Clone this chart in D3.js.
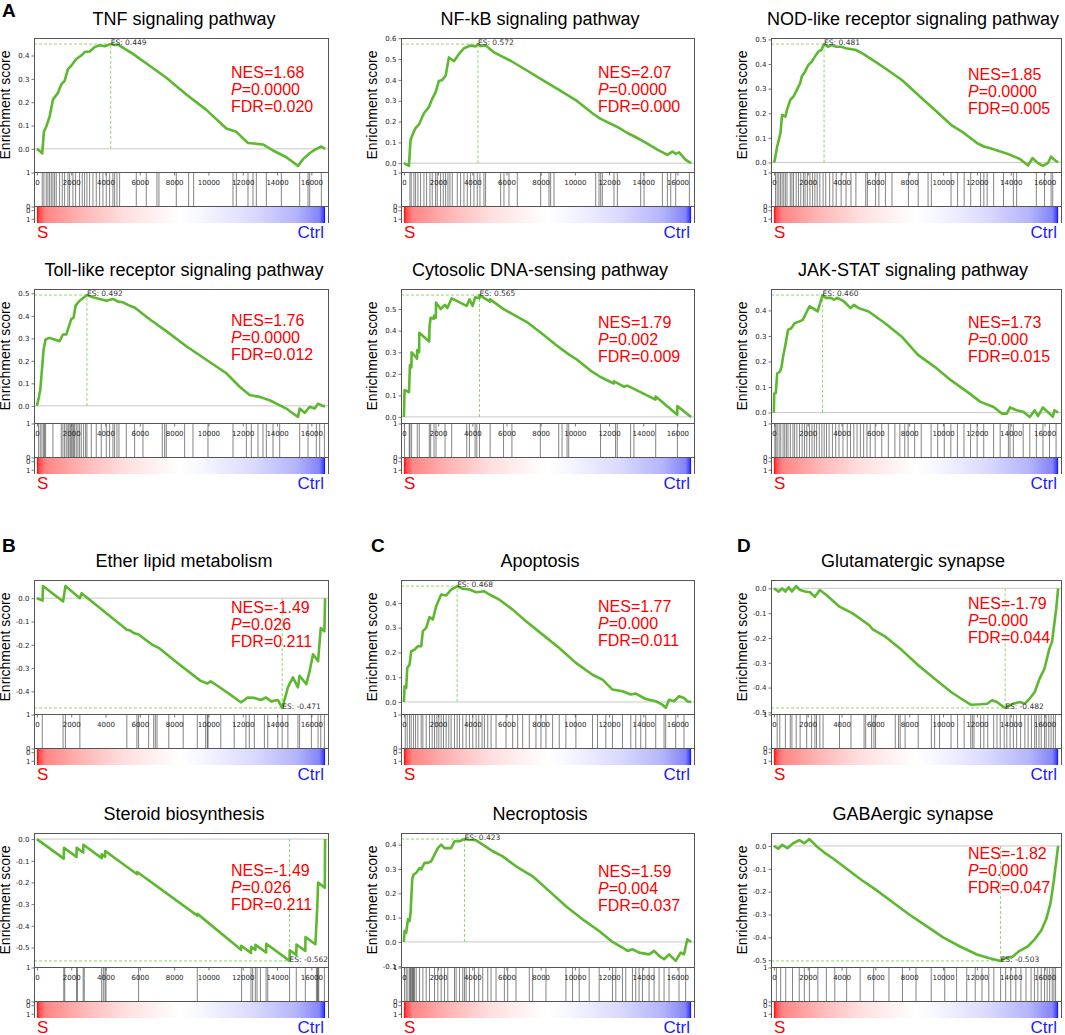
<!DOCTYPE html>
<html>
<head>
<meta charset="utf-8">
<script src="https://cdn.jsdelivr.net/npm/d3@7"></script>
<style>
  body { margin: 0; background: #fff; }
  svg { display: block; }
</style>
</head>
<body>
<div id="chart"></div>
<script>
// ---- data ----
const titles = ["TNF signaling pathway", "NF-kB signaling pathway", "NOD-like receptor signaling pathway",
  "Toll-like receptor signaling pathway", "Cytosolic DNA-sensing pathway", "JAK-STAT signaling pathway",
  "Ether lipid metabolism", "Apoptosis", "Glutamatergic synapse",
  "Steroid biosynthesis", "Necroptosis", "GABAergic synapse"];
const nesValues = ["1.68", "2.07", "1.85", "1.76", "1.79", "1.73", "-1.49", "1.77", "-1.79", "-1.49", "1.59", "-1.82"];
const pValues = ["0.0000", "0.0000", "0.0000", "0.0000", "0.002", "0.000", "0.026", "0.000", "0.000", "0.026", "0.004", "0.000"];
const fdrValues = ["0.020", "0.000", "0.005", "0.012", "0.009", "0.015", "0.211", "0.011", "0.044", "0.211", "0.037", "0.047"];
const xTicks = [0, 2000, 4000, 6000, 8000, 10000, 12000, 14000, 16000];
const nGenes = 16800;
const panelLetters = ["A", "B", "C", "D"];
const groupLabels = ["S", "Ctrl"];

// running enrichment score, [rank, ES]
const esTNF = [[0,0],[311,-0.019],[408,0.073],[544,0.095],[739,0.138],[933,0.211],[1225,0.240],[1419,0.276],[1614,0.291],[1808,0.342],[2002,0.356],[2294,0.385],[2586,0.400],[2780,0.415],[3072,0.417],[3363,0.436],[3655,0.444],[3946,0.440],[4300,0.449],[4530,0.445],[4724,0.447],[5600,0.407],[6571,0.356],[7543,0.305],[8710,0.233],[9876,0.167],[11042,0.087],[11625,0.073],[12306,0.025],[13180,0.019],[13763,-0.007],[14541,-0.036],[15222,-0.073],[15513,-0.044],[15902,-0.019],[16193,-0.004],[16582,0.010],[16800,0]];
const esNFkB = [[0,0],[293,-0.013],[390,0.113],[546,0.145],[683,0.169],[878,0.185],[1171,0.24],[1463,0.27],[1658,0.31],[1853,0.34],[2049,0.395],[2244,0.40],[2439,0.42],[2634,0.508],[2927,0.49],[3219,0.524],[3512,0.552],[3902,0.565],[4195,0.561],[4330,0.572],[4487,0.563],[4780,0.566],[5268,0.532],[6243,0.492],[7219,0.444],[8194,0.395],[9170,0.347],[10145,0.298],[11121,0.234],[11511,0.213],[12486,0.174],[13072,0.145],[13657,0.121],[14242,0.094],[14828,0.065],[15413,0.04],[15706,0.056],[15901,0.045],[16096,0.052],[16486,0.016],[16800,0]];
const esNOD = [[0,0],[58,0.011],[194,0.065],[388,0.119],[485,0.193],[679,0.186],[776,0.214],[970,0.254],[1163,0.268],[1357,0.295],[1551,0.322],[1648,0.349],[1842,0.369],[2036,0.396],[2230,0.409],[2424,0.430],[2618,0.450],[2812,0.457],[2967,0.481],[3200,0.470],[3393,0.477],[3684,0.470],[3975,0.470],[4266,0.464],[4848,0.457],[5235,0.443],[6011,0.409],[6593,0.382],[7562,0.335],[8532,0.274],[9501,0.214],[10471,0.153],[11246,0.119],[12022,0.078],[12410,0.065],[12797,0.058],[13379,0.045],[13961,0.031],[14543,0.014],[15027,-0.012],[15280,0.018],[15609,-0.003],[15900,-0.014],[16190,-0.003],[16384,0.024],[16578,0.011],[16800,0]];
const esToll = [[0,0],[117,0.04],[194,0.07],[292,0.16],[389,0.25],[505,0.295],[739,0.302],[1030,0.295],[1322,0.287],[1516,0.317],[1711,0.317],[1808,0.34],[2002,0.385],[2138,0.392],[2255,0.445],[2488,0.467],[2683,0.478],[2916,0.492],[3266,0.482],[3655,0.475],[4044,0.467],[4432,0.475],[4724,0.463],[5016,0.46],[5404,0.445],[5696,0.437],[6571,0.385],[7543,0.332],[8709,0.265],[9876,0.205],[11042,0.145],[11819,0.085],[12403,0.048],[12986,0.04],[13569,0.025],[13958,0.01],[14541,-0.012],[14930,-0.034],[15222,-0.049],[15319,-0.012],[15610,-0.031],[15902,-0.004],[16193,-0.012],[16388,0.01],[16680,-0.001],[16800,0]];
const esCytosolic = [[0,0],[40,0.125],[300,0.115],[352,0.24],[440,0.23],[450,0.30],[770,0.27],[782,0.31],[890,0.30],[900,0.39],[1480,0.35],[1500,0.42],[1565,0.46],[1750,0.455],[1760,0.47],[1870,0.46],[1878,0.53],[2150,0.50],[2406,0.52],[2540,0.505],[2797,0.55],[3670,0.515],[3834,0.545],[4020,0.515],[4166,0.555],[4410,0.55],[4421,0.565],[5040,0.535],[5046,0.545],[5829,0.50],[6513,0.47],[7198,0.44],[8176,0.38],[8958,0.33],[9643,0.29],[10132,0.265],[10914,0.215],[11501,0.185],[12280,0.155],[12290,0.165],[12870,0.14],[13066,0.145],[13457,0.13],[14720,0.08],[14730,0.095],[15990,0.01],[16000,0.05],[16800,0]];
const esJAK = [[0,0],[19,0.075],[117,0.077],[194,0.153],[350,0.16],[447,0.177],[544,0.219],[700,0.271],[836,0.324],[1030,0.330],[1225,0.350],[1516,0.357],[1711,0.363],[1905,0.390],[2100,0.416],[2294,0.409],[2586,0.396],[2877,0.460],[3072,0.449],[3363,0.449],[3557,0.442],[3752,0.449],[4141,0.435],[4530,0.409],[4724,0.422],[5016,0.409],[5599,0.396],[6571,0.350],[7543,0.298],[8515,0.226],[9487,0.180],[10459,0.127],[11431,0.081],[12209,0.042],[12986,0.022],[13472,-0.004],[13764,-0.004],[13958,0.02],[14347,0.009],[14736,0.003],[15124,-0.017],[15416,0.009],[15610,-0.014],[15902,0.02],[16291,-0.004],[16485,-0.017],[16582,0.009],[16800,0]];
const esEther = [[0,0],[330,-0.01],[352,0.052],[1526,-0.014],[1662,0.052],[2504,0],[2602,0.021],[5242,-0.135],[5438,-0.139],[5634,-0.149],[5927,-0.156],[6709,-0.199],[7101,-0.213],[8176,-0.277],[9545,-0.355],[9937,-0.366],[10133,-0.357],[10524,-0.376],[11502,-0.426],[11893,-0.447],[12088,-0.437],[12284,-0.426],[12675,-0.428],[13066,-0.437],[13360,-0.426],[13653,-0.443],[14044,-0.437],[14300,-0.471],[14533,-0.411],[14631,-0.383],[14924,-0.340],[15217,-0.383],[15315,-0.333],[15706,-0.369],[15902,-0.312],[16098,-0.241],[16391,-0.27],[16548,-0.128],[16760,-0.142],[16800,0]];
const esApoptosis = [[0,0],[39,0.063],[136,0.057],[195,0.137],[331,0.151],[428,0.205],[623,0.211],[817,0.225],[1012,0.225],[1109,0.286],[1304,0.299],[1498,0.343],[1693,0.333],[1888,0.387],[2179,0.434],[2471,0.430],[2763,0.454],[2958,0.461],[3114,0.468],[3444,0.457],[3834,0.454],[4223,0.443],[4709,0.447],[5001,0.434],[5585,0.413],[6363,0.373],[7142,0.326],[8115,0.272],[9088,0.218],[10061,0.158],[11034,0.110],[11618,0.090],[12201,0.050],[12785,0.043],[13272,0.030],[13564,0.034],[14147,0.012],[14731,0.003],[15120,-0.011],[15315,-0.024],[15510,0.009],[15802,0.003],[16093,0.023],[16385,0.016],[16580,0.003],[16800,0]];
const esGlutamatergic = [[0,0],[291,-0.013],[485,0],[679,-0.013],[873,0.004],[1066,-0.013],[1319,0.009],[1551,-0.007],[1842,-0.013],[2133,-0.016],[2424,-0.034],[2715,-0.007],[3103,-0.027],[3878,-0.074],[4654,-0.101],[5623,-0.148],[5817,-0.164],[6593,-0.195],[7562,-0.249],[8532,-0.310],[9501,-0.364],[10471,-0.418],[11052,-0.444],[11634,-0.469],[12216,-0.467],[12604,-0.465],[12895,-0.451],[13185,-0.458],[13573,-0.478],[13670,-0.482],[14155,-0.465],[14543,-0.458],[14834,-0.465],[15124,-0.444],[15415,-0.418],[15706,-0.364],[15997,-0.323],[16094,-0.296],[16288,-0.242],[16443,-0.215],[16540,-0.162],[16690,-0.081],[16800,0]];
const esSteroid = [[0,0],[1565,-0.090],[1575,-0.040],[2308,-0.082],[2318,-0.040],[2699,-0.062],[2709,-0.026],[3775,-0.088],[3785,-0.070],[3971,-0.081],[3981,-0.055],[5840,-0.162],[5850,-0.152],[9350,-0.353],[9360,-0.345],[11900,-0.511],[11910,-0.492],[12480,-0.525],[12490,-0.497],[12734,-0.511],[12744,-0.488],[13360,-0.523],[13370,-0.483],[14729,-0.562],[14739,-0.513],[15120,-0.535],[15130,-0.486],[15648,-0.516],[15658,-0.452],[16235,-0.485],[16294,-0.395],[16352,-0.302],[16391,-0.201],[16782,-0.224],[16800,0]];
const esNecroptosis = [[0,0],[39,0.045],[136,0.038],[234,0.093],[331,0.086],[389,0.12],[487,0.257],[564,0.277],[720,0.284],[915,0.304],[1012,0.298],[1207,0.325],[1401,0.325],[1596,0.332],[1790,0.359],[1985,0.386],[2179,0.40],[2374,0.386],[2763,0.386],[2958,0.414],[3250,0.414],[3542,0.423],[3834,0.420],[4223,0.418],[4612,0.40],[5196,0.373],[5780,0.352],[6558,0.311],[7531,0.270],[8504,0.209],[9477,0.147],[10450,0.093],[11423,0.045],[12201,0],[12785,-0.023],[13077,-0.037],[13369,-0.030],[13758,-0.044],[14342,-0.051],[14634,-0.037],[14926,-0.057],[15218,-0.071],[15510,-0.051],[15899,-0.078],[16191,-0.044],[16385,-0.051],[16580,0.011],[16800,0]];
const esGABA = [[0,0],[250,-0.012],[500,0.005],[800,-0.01],[1100,0.01],[1500,0.025],[1800,0.012],[2100,0.03],[2500,0.0],[3000,-0.03],[3500,-0.055],[4300,-0.1],[5200,-0.15],[6000,-0.19],[7000,-0.245],[8000,-0.3],[9000,-0.35],[10000,-0.4],[11000,-0.44],[12000,-0.475],[12700,-0.49],[13400,-0.503],[13700,-0.49],[14100,-0.485],[14500,-0.46],[15000,-0.44],[15400,-0.41],[15800,-0.37],[16100,-0.32],[16350,-0.25],[16550,-0.15],[16700,-0.06],[16800,0]];

// ranks of the gene-set members (the bar code)
const hitsTNF = [311,408,544,641,739,836,933,1030,1128,1322,1477,1614,1808,1905,2100,2255,2488,2644,2780,2916,3072,3266,3460,3655,3849,4044,4238,4432,4530,4666,4821,5793,6376,6998,7115,8126,8845,9137,11431,11625,12306,12597,12792,13375,14250,15319,15805,15902,16582];
const hitsNFkB = [351,429,585,683,819,976,1171,1327,1522,1658,1853,1951,2146,2302,2439,2575,2692,2829,3122,3317,3512,3707,3902,4097,4292,4448,4682,4780,5658,5853,6146,6633,8000,8487,8584,8780,11218,11413,11511,11609,12291,12486,13852,14047,15120,15413,15608,15901,16700];
const hitsNOD = [97,194,291,388,485,582,679,776,970,1066,1163,1319,1454,1590,1745,1842,1978,2133,2288,2424,2559,2715,2909,3064,3296,3490,3684,3975,4266,4557,4848,5429,5526,6011,6205,6593,6980,7950,8532,9113,9307,10471,10858,11246,11634,12216,12410,12604,12991,13573,14155,14349,15512,15997,16384,16481];
const hitsToll = [97,194,292,389,447,505,933,1419,1516,1614,1711,1808,1866,1944,2002,2061,2138,2197,2294,2391,2488,2586,2722,2838,2916,3169,3460,3752,4044,4238,4432,4530,4666,4782,5210,5696,6182,7309,7446,7543,8612,9098,9973,11431,12209,12500,12889,13180,13375,13764,14153,15319,15805,16291,16485,16760];
const hitsCytosolic = [39,313,352,450,782,900,1487,1565,1760,1878,2406,2797,3677,3834,4166,4264,4421,5046,5829,6318,7980,9056,9252,9545,9643,11501,12381,12479,13262,13457,14729,16000];
const hitsJAK = [58,117,194,311,408,544,642,739,836,972,1128,1225,1361,1516,1672,1808,1944,2100,2255,2391,2527,2683,2838,2974,3110,3266,3460,3655,3849,4082,4335,4530,4724,4918,5113,5307,5501,5696,5988,6376,6765,7154,7446,7737,7932,8320,8709,9292,9681,10070,10459,10848,11236,11625,12014,12403,12986,13375,13861,13958,14153,14736,15124,15513,15902,16291,16680];
const hitsEther = [313,1526,1662,2504,5242,5829,5927,6514,6807,6905,7003,7688,8528,9350,9839,9937,9976,10719,11502,12186,12382,12675,13262,13458,14044,14298,14631,15217,15315,16000,16391,16548,16760];
const hitsApoptosis = [78,195,331,428,564,681,817,1012,1109,1304,1498,1654,1790,1927,2043,2180,2316,2471,2627,2763,2958,3114,3250,3444,3639,3834,4028,4223,4379,4573,4709,4904,5099,5390,5974,6363,6655,6947,7336,7726,8018,8309,8699,9088,9477,10061,11034,11326,11812,12201,12785,13272,13564,13855,14147,14731,15218,15315,15899,16385];
const hitsGlutamatergic = [194,349,679,970,1066,1319,1551,1939,2230,2424,2521,2715,2909,3878,4557,5332,5429,5778,5914,6011,7174,7368,7465,7756,8532,9307,9501,9792,10471,10858,11246,11634,11731,11828,12216,12410,12642,12991,13185,13379,13612,13767,13961,14155,14349,14581,14834,15027,15221,15415,15512,15667,15803,15997,16094,16249,16384,16520,16637];
const hitsSteroid = [1565,1623,2308,2367,2699,2758,3775,3873,3971,4030,5927,9350,11932,12480,12578,12734,12832,13028,13360,13458,14729,15120,15648,16294,16352,16391,16430,16760];
const hitsNecroptosis = [39,136,234,331,389,428,487,525,564,623,720,915,1109,1304,1498,1790,1985,2179,2374,2569,2958,3055,3250,3444,3542,3639,3834,4126,4379,4612,4904,5099,5390,5877,6071,6558,7336,7531,8309,9477,9866,10255,10839,11423,12201,12396,12785,12980,13369,13564,13758,13953,14342,14634,14926,15218,15510,16093,16483];
const hitsGABA = [150,400,700,1100,1500,1800,2100,2600,3100,3600,4300,5100,5900,6800,7600,8400,9300,10100,10800,11400,11900,12300,12700,13000,13400,13700,14000,14300,14600,14900,15200,15400,15600,15800,16000,16150,16300,16450,16550,16650];

const esCurves = [esTNF, esNFkB, esNOD, esToll, esCytosolic, esJAK, esEther, esApoptosis, esGlutamatergic, esSteroid, esNecroptosis, esGABA];
const hitRanks = [hitsTNF, hitsNFkB, hitsNOD, hitsToll, hitsCytosolic, hitsJAK, hitsEther, hitsApoptosis, hitsGlutamatergic, hitsSteroid, hitsNecroptosis, hitsGABA];

// ---- layout ----
const colX = [[34, 328], [401, 694], [771, 1061]];
const rowTop = [38, 289, 580, 833];
const titleX = [184, 540, 913];
const nesTop = [40, 40, 42, 37, 39, 39, 33, 32, 29, 43, 44, 26];
const letterPos = [[2, 17, 0], [2, 552, 6], [371, 552, 7], [737, 552, 8]];
const esH = 134, hitH = 34, cbH = 17;

const green = "#5cb82e";
const frame = "#555";
const sans = "'Liberation Sans', Arial, sans-serif";
const small = "'DejaVu Sans', sans-serif";

const svg = d3.select('#chart').append('svg')
    .attr('width', 1065)
    .attr('height', 1035);

// red -> white -> blue ranked-metric bar
const grad = svg.append('defs').append('linearGradient').attr('id', 'rankGrad');
[[0, '#ff0000'], [0.008, '#ff4a4a'], [0.03, '#ff8585'], [0.15, '#ffb3b3'], [0.3, '#ffdede'],
 [0.45, '#fff7f7'], [0.5, '#ffffff'], [0.58, '#f5f5ff'], [0.75, '#dadaff'], [0.9, '#b4b4fb'],
 [0.98, '#8484f8'], [0.995, '#4040ff'], [1, '#0000ff']].forEach(s => {
  grad.append('stop').attr('offset', s[0]).attr('stop-color', s[1]);
});

function styleAxis(g) {
  g.select('.domain').remove();
  g.selectAll('line').attr('stroke', frame).attr('stroke-width', 0.8);
  g.selectAll('text').attr('font-family', small).attr('font-size', 7).attr('fill', '#222');
}

function drawPanel(i) {
  const col = i % 3, row = Math.floor(i / 3);
  const [left, right] = colX[col];
  const top = rowTop[row];
  const esBottom = top + esH, hitBottom = esBottom + hitH, cbBottom = hitBottom + cbH;
  const pts = esCurves[i];
  const g = svg.append('g');

  const x = d3.scaleLinear().domain([-170, 16970]).range([left, right]);
  const ext = d3.extent(pts, d => d[1]);
  const pad = (ext[1] - ext[0]) * 0.05;
  const y = d3.scaleLinear().domain([ext[0] - pad, ext[1] + pad]).range([esBottom, top]);

  // title
  g.append('text')
      .attr('x', titleX[col]).attr('y', top - 13)
      .attr('text-anchor', 'middle')
      .attr('font-family', sans).attr('font-size', 18)
      .text(titles[i]);

  // zero line
  g.append('line')
      .attr('x1', left).attr('x2', right)
      .attr('y1', y(0)).attr('y2', y(0))
      .attr('stroke', '#c8c8c8').attr('stroke-width', 1);

  // peak (max for positive NES, min for negative)
  const positive = +nesValues[i] > 0;
  const peak = positive ? pts[d3.maxIndex(pts, d => d[1])] : pts[d3.minIndex(pts, d => d[1])];

  g.append('line')
      .attr('x1', left).attr('x2', x(peak[0]))
      .attr('y1', y(peak[1])).attr('y2', y(peak[1]))
      .attr('stroke', '#8fd66a').attr('stroke-width', 1).attr('stroke-dasharray', '3,2');
  g.append('line')
      .attr('x1', x(peak[0])).attr('x2', x(peak[0]))
      .attr('y1', y(0)).attr('y2', y(peak[1]))
      .attr('stroke', '#8fd66a').attr('stroke-width', 1).attr('stroke-dasharray', '3,2');

  // running ES curve
  const line = d3.line().x(d => x(d[0])).y(d => y(d[1]));
  g.append('path')
      .datum(pts)
      .attr('d', line)
      .attr('fill', 'none')
      .attr('stroke', green)
      .attr('stroke-width', 2.6)
      .attr('stroke-linejoin', 'round');

  g.append('text')
      .attr('x', x(peak[0])).attr('y', y(peak[1]) + 1)
      .attr('font-family', small).attr('font-size', 7.5).attr('fill', '#333')
      .text('ES: ' + peak[1].toFixed(3));

  // frame + y axis
  g.append('rect')
      .attr('x', left + 0.5).attr('y', top + 0.5)
      .attr('width', right - left).attr('height', esH)
      .attr('fill', 'none').attr('stroke', frame);
  g.append('g')
      .attr('transform', `translate(${left + 0.5},0)`)
      .call(d3.axisLeft(y).ticks(5).tickSize(3).tickPadding(2).tickFormat(d => d.toFixed(1)))
      .call(styleAxis);

  g.append('text')
      .attr('transform', `translate(${left - 24},${top + esH / 2}) rotate(-90)`)
      .attr('text-anchor', 'middle')
      .attr('font-family', sans).attr('font-size', 14)
      .text('Enrichment score');

  // hits (bar code)
  g.append('rect')
      .attr('x', left).attr('y', esBottom + 1)
      .attr('width', right - left).attr('height', hitH - 1)
      .attr('fill', '#fff');
  g.selectAll('line.hit')
      .data(hitRanks[i])
      .join('line')
      .attr('class', 'hit')
      .attr('x1', d => x(d)).attr('x2', d => x(d))
      .attr('y1', esBottom).attr('y2', hitBottom)
      .attr('stroke', '#111').attr('stroke-width', 0.8).attr('stroke-opacity', 0.65);

  g.append('g')
      .attr('transform', `translate(0,${esBottom + 0.5})`)
      .call(d3.axisBottom(x).tickValues(xTicks).tickSize(3).tickPadding(5).tickFormat(d3.format('d')))
      .call(styleAxis);

  g.append('rect')
      .attr('x', left + 0.5).attr('y', esBottom + 0.5)
      .attr('width', right - left).attr('height', hitH)
      .attr('fill', 'none').attr('stroke', frame);

  const yHit = d3.scaleLinear().domain([0, 1]).range([hitBottom, esBottom]);
  g.append('g')
      .attr('transform', `translate(${left + 0.5},0.5)`)
      .call(d3.axisLeft(yHit).tickValues([0, 1]).tickSize(3).tickPadding(1).tickFormat(d3.format('d')))
      .call(styleAxis);

  // ranked list colour bar
  g.append('rect')
      .attr('x', x(0)).attr('y', hitBottom + 1)
      .attr('width', x(nGenes) - x(0)).attr('height', cbH - 1)
      .attr('fill', 'url(#rankGrad)');
  [left, right].forEach(xx => {
    g.append('line')
        .attr('x1', xx + 0.5).attr('x2', xx + 0.5)
        .attr('y1', hitBottom).attr('y2', cbBottom)
        .attr('stroke', frame);
  });
  const yCb = d3.scaleLinear().domain([-0.5, 1.5]).range([hitBottom, cbBottom]);
  g.append('g')
      .attr('transform', `translate(${left + 0.5},0)`)
      .call(d3.axisLeft(yCb).tickValues([0, 1]).tickSize(3).tickPadding(1).tickFormat(d3.format('d')))
      .call(styleAxis);

  g.append('text')
      .attr('x', x(0)).attr('y', cbBottom + 15)
      .attr('font-family', sans).attr('font-size', 17).attr('fill', '#ff0000')
      .text(groupLabels[0]);
  g.append('text')
      .attr('x', right - 4).attr('y', cbBottom + 15)
      .attr('text-anchor', 'end')
      .attr('font-family', sans).attr('font-size', 17).attr('fill', '#1a1aff')
      .text(groupLabels[1]);

  // statistics
  const stats = g.append('g')
      .attr('font-family', sans).attr('font-size', 16).attr('fill', '#ff0000');
  const sx = left + 197, sy = top + nesTop[i];
  stats.append('text').attr('x', sx).attr('y', sy).text('NES=' + nesValues[i]);
  const pt = stats.append('text').attr('x', sx).attr('y', sy + 17);
  pt.append('tspan').attr('font-style', 'italic').text('P');
  pt.append('tspan').text('=' + pValues[i]);
  stats.append('text').attr('x', sx).attr('y', sy + 34).text('FDR=' + fdrValues[i]);
}

d3.range(titles.length).forEach(drawPanel);

svg.selectAll('text.letter')
    .data(letterPos)
    .join('text')
    .attr('class', 'letter')
    .attr('x', d => d[0]).attr('y', d => d[1])
    .attr('font-family', sans).attr('font-size', 19).attr('font-weight', 'bold')
    .text((d, k) => panelLetters[k]);
</script>
</body>
</html>
